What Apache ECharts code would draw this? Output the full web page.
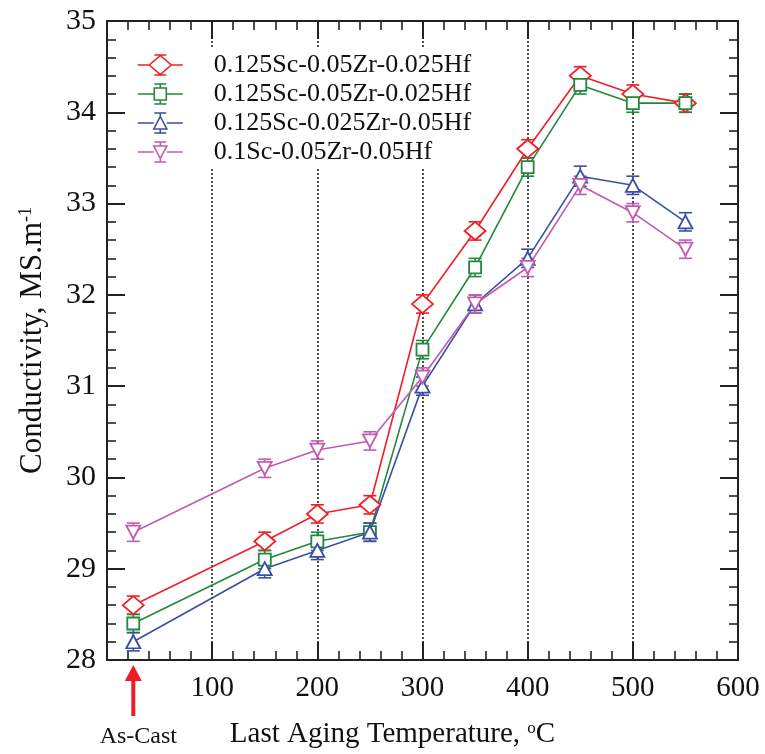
<!DOCTYPE html>
<html>
<head>
<meta charset="utf-8">
<script src="https://cdn.jsdelivr.net/npm/echarts@6/dist/echarts.min.js"></script>
<style>
html,body{margin:0;padding:0;background:#fff;}
#c{width:765px;height:754px;}
</style>
</head>
<body>
<div id="c"></div>
<script>
// ---- data ----
const temps = [25, 150, 200, 250, 300, 350, 400, 450, 500, 550];
const names = ['0.125Sc-0.05Zr-0.025Hf', '0.125Sc-0.05Zr-0.025Hf ', '0.125Sc-0.025Zr-0.05Hf', '0.1Sc-0.05Zr-0.05Hf'];
const redVals = [28.6, 29.3, 29.6, 29.7, 31.9, 32.7, 33.6, 34.4, 34.2, 34.1];
const greenVals = [28.4, 29.1, 29.3, 29.4, 31.4, 32.3, 33.4, 34.3, 34.1, 34.1];
const blueVals = [28.2, 29.0, 29.2, 29.4, 31.0, 31.9, 32.4, 33.3, 33.2, 32.8];
const magentaVals = [29.4, 30.1, 30.3, 30.4, 31.1, 31.9, 32.3, 33.2, 32.9, 32.5];
const redErr = [0.1, 0.1, 0.1, 0.1, 0.1, 0.1, 0.1, 0.1, 0.1, 0.1];
const greenErr = [0.1, 0.1, 0.1, 0.1, 0.1, 0.1, 0.1, 0.1, 0.1, 0.1];
const blueErr = [0.1, 0.1, 0.1, 0.1, 0.1, 0.1, 0.1, 0.11, 0.1, 0.1];
const magentaErr = [0.1, 0.1, 0.1, 0.1, 0.1, 0.1, 0.1, 0.1, 0.1, 0.1];
const xTicks = [100, 200, 300, 400, 500, 600];
const annotationX = 25;
const annotationText = 'As-Cast';

const colors = ['#ee1f26', '#22883c', '#3a4fa3', '#c25bb0'];
const valsAll = [redVals, greenVals, blueVals, magentaVals];
const errAll = [redErr, greenErr, blueErr, magentaErr];
const FONT = "'Liberation Serif','Times New Roman',serif";

// legend icon paths (45 x 20 box)
const legendIcons = [
  'path://M0 10L11.5 10M33.5 10L45 10M16.5 0L28.5 0M16.5 20L28.5 20M22.5 0L22.5 0.5M22.5 19.5L22.5 20M11.5 10L22.5 0.5L33.5 10L22.5 19.5Z',
  'path://M0 10L16.5 10M28.5 10L45 10M16.5 0L28.5 0M16.5 20L28.5 20M22.5 0L22.5 4M22.5 16L22.5 20M16.5 4L28.5 4L28.5 16L16.5 16Z',
  'path://M0 10L16 10M29 10L45 10M16.5 0L28.5 0M16.5 20L28.5 20M22.5 0L22.5 3.5M22.5 16L22.5 20M22.5 3.5L29 16L16 16Z',
  'path://M0 10L16 10M29 10L45 10M16.5 0L28.5 0M16.5 20L28.5 20M22.5 0L22.5 4M22.5 16.5L22.5 20M16 4L29 4L22.5 16.5Z'
];
const symbols = ['diamond', 'rect', 'triangle', 'triangle'];
const symbolSizes = [[21, 18], 12, [14, 13], [14, 13]];
const symbolRotates = [0, 0, 0, 180];

const chart = echarts.init(document.getElementById('c'), null, {renderer: 'canvas'});

const series = [];
for (let i = 0; i < 4; i++) {
  series.push({
    type: 'custom',
    name: 'err' + i,
    xAxisIndex: 0, yAxisIndex: 0,
    z: 2,
    silent: true,
    data: temps.map((t, j) => [t, valsAll[i][j], errAll[i][j]]),
    renderItem: (function (col) {
      return function (params, api) {
        const x = api.value(0), y = api.value(1), e = api.value(2);
        const top = api.coord([x, y + e]);
        const bot = api.coord([x, y - e]);
        const hw = 6.5;
        const st = {stroke: col, lineWidth: 1.6};
        return {
          type: 'group',
          children: [
            {type: 'line', shape: {x1: top[0], y1: top[1], x2: bot[0], y2: bot[1]}, style: st},
            {type: 'line', shape: {x1: top[0] - hw, y1: top[1], x2: top[0] + hw, y2: top[1]}, style: st},
            {type: 'line', shape: {x1: bot[0] - hw, y1: bot[1], x2: bot[0] + hw, y2: bot[1]}, style: st}
          ]
        };
      };
    })(colors[i])
  });
}
for (let i = 0; i < 4; i++) {
  series.push({
    type: 'line',
    name: names[i],
    xAxisIndex: 0, yAxisIndex: 0,
    z: 3,
    data: temps.map((t, j) => [t, valsAll[i][j]]),
    symbol: symbols[i],
    symbolSize: symbolSizes[i],
    symbolRotate: symbolRotates[i],
    showAllSymbol: true,
    lineStyle: {color: colors[i], width: 1.6},
    itemStyle: {color: '#fff', borderColor: colors[i], borderWidth: 1.8},
    emphasis: {disabled: true},
    animation: false
  });
}

const axisLineStyle = {color: '#222', width: 2};
const option = {
  animation: false,
  backgroundColor: '#fff',
  grid: {left: 107, right: 27, top: 21, bottom: 94, containLabel: false},
  legend: {
    show: true,
    left: 130,
    top: 49,
    z: 4,
    orient: 'vertical',
    backgroundColor: '#fff',
    padding: [3, 12, 3, 7],
    itemWidth: 45,
    itemHeight: 20,
    itemGap: 3,
    symbolKeepAspect: false,
    selectedMode: false,
    textStyle: {fontFamily: FONT, fontSize: 26, color: '#111', padding: [0, 0, 0, 26]},
    formatter: function (n) { return n.trim(); },
    data: names.map((n, i) => ({
      name: n,
      icon: legendIcons[i],
      itemStyle: {color: '#fff', borderColor: colors[i], borderWidth: 1.6}
    }))
  },
  xAxis: [
    {
      type: 'value', position: 'bottom', min: 0, max: 600, interval: 100,
      name: 'Last Aging Temperature, {sup|o}C',
      nameLocation: 'middle', nameGap: 60,
      nameTextStyle: {fontFamily: FONT, fontSize: 29, color: '#111', padding: [0, 60, 0, 0],
        rich: {sup: {fontFamily: FONT, fontSize: 17, verticalAlign: 'top', padding: [0, 0, 12, 0]}}},
      axisLine: {show: true, onZero: false, lineStyle: axisLineStyle},
      axisTick: {show: true, inside: true, length: 18, lineStyle: {color: '#222', width: 2}},
      minorTick: {show: true, splitNumber: 5, length: 9, lineStyle: {color: '#222', width: 1.6}},
      axisLabel: {show: true, margin: 14, fontFamily: FONT, fontSize: 29, color: '#111',
        formatter: function (v) { return xTicks.indexOf(v) >= 0 ? String(v) : ''; }},
      splitLine: {show: true, lineStyle: {type: [2, 2], color: '#222', width: 1.6}},
      minorSplitLine: {show: false}
    },
    {
      type: 'value', position: 'top', min: 0, max: 600, interval: 100,
      axisLine: {show: true, onZero: false, lineStyle: axisLineStyle},
      axisTick: {show: true, inside: true, length: 18, lineStyle: {color: '#222', width: 2}},
      minorTick: {show: true, splitNumber: 5, length: 9, lineStyle: {color: '#222', width: 1.6}},
      axisLabel: {show: false},
      splitLine: {show: false}
    }
  ],
  yAxis: [
    {
      type: 'value', position: 'left', min: 28, max: 35, interval: 1,
      name: 'Conductivity, MS.m{sup|-1}',
      nameLocation: 'middle', nameGap: 58, nameRotate: 90,
      nameTextStyle: {fontFamily: FONT, fontSize: 31, color: '#111',
        rich: {sup: {fontFamily: FONT, fontSize: 18, verticalAlign: 'top', padding: [0, 0, 14, 0]}}},
      axisLine: {show: true, onZero: false, lineStyle: axisLineStyle},
      axisTick: {show: true, inside: true, length: 18, lineStyle: {color: '#222', width: 2}},
      minorTick: {show: true, splitNumber: 5, length: 9, lineStyle: {color: '#222', width: 1.6}},
      axisLabel: {show: true, margin: 11, fontFamily: FONT, fontSize: 30, color: '#111'},
      splitLine: {show: false}
    },
    {
      type: 'value', position: 'right', min: 28, max: 35, interval: 1,
      axisLine: {show: true, onZero: false, lineStyle: axisLineStyle},
      axisTick: {show: true, inside: true, length: 18, lineStyle: {color: '#222', width: 2}},
      minorTick: {show: true, splitNumber: 5, length: 9, lineStyle: {color: '#222', width: 1.6}},
      axisLabel: {show: false},
      splitLine: {show: false}
    }
  ],
  series: series
};
chart.setOption(option);

// As-Cast annotation arrow positioned through the axis scale
const ax = chart.convertToPixel({xAxisIndex: 0}, annotationX);
const yBase = chart.convertToPixel({yAxisIndex: 0}, 28);
chart.setOption({
  graphic: [
    {type: 'polygon', shape: {points: [[ax, yBase + 5], [ax - 8.5, yBase + 21], [ax + 8.5, yBase + 21]]},
      style: {fill: '#ee1c25'}, silent: true},
    {type: 'rect', shape: {x: ax - 2, y: yBase + 20, width: 4, height: 36},
      style: {fill: '#ee1c25'}, silent: true},
    {type: 'text', x: ax + 5, y: yBase + 77, silent: true,
      style: {text: annotationText, fontFamily: FONT, fontSize: 24, fill: '#111', align: 'center', verticalAlign: 'middle'}}
  ]
});
</script>
</body>
</html>
